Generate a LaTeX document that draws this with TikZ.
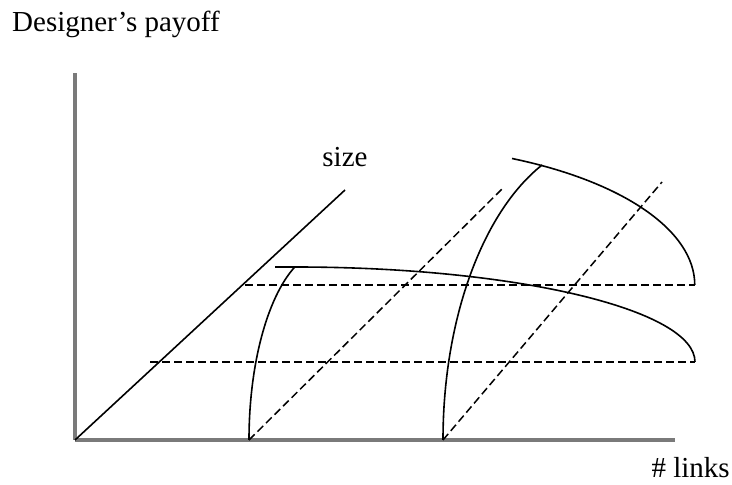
\documentclass[tikz,border=0pt]{standalone}
\usepackage{fontspec}
\setmainfont{Liberation Serif}
\definecolor{axGrey}{HTML}{7A7A7A}

\begin{document}
\begin{tikzpicture}[x=1pt, y=1pt,
  axis/.style={draw=axGrey, line width=3.4pt},
  curve/.style={draw=black, line width=1.6pt},
  guide/.style={draw=black, line width=1.5pt, dash pattern=on 8pt off 4pt},
  lab/.style={font=\fontsize{29}{29}\selectfont, inner sep=0pt},
]
\useasboundingbox (-75,-45) rectangle (657,440);
% ---- axes ----
\coordinate (O) at (0,0);
\coordinate (ytop) at (0,367);
\coordinate (xend) at (600,0);
\coordinate (send) at (270,250);
\draw[axis] (O) -- (ytop);
\draw[axis] (O) -- (xend);
\draw[curve] (O) -- (send);
\node[lab, anchor=base west] (ylab) at (-63,408) {Designer’s payoff};
\node[lab, anchor=base] (slab) at (270,273) {size};
\node[lab, anchor=base east] (xlab) at (655,-38) {\# links};
% ---- size levels (dashed) ----
\draw[guide] (75,78) -- (620,78);
\draw[guide] (170,155) -- (620,155);
% ---- link levels (dashed, along size) ----
\coordinate (l1) at (174,0);
\coordinate (l2) at (368,0);
\draw[guide] (l1) -- (427,251);
\draw[guide] (l2) -- (587,258);
% ---- payoff surfaces ----
\draw[curve] (l1) arc[start angle=180, end angle=114.4, x radius=78, y radius=190];
\draw[curve] (200,173) -- (220,173) arc[start angle=90, end angle=0, x radius=400, y radius=95];
\draw[curve] (l2) arc[start angle=180, end angle=113.5, x radius=165, y radius=300];
\draw[curve] (437,281.5) arc[start angle=64.6, end angle=0, x radius=320, y radius=140];
\end{tikzpicture}
\end{document}
